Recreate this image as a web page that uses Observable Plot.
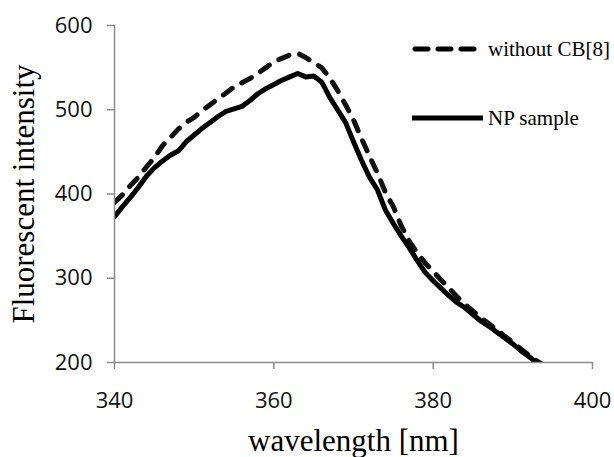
<!DOCTYPE html>
<html>
<head>
<meta charset="utf-8">
<script src="https://cdn.jsdelivr.net/npm/d3@7"></script>
<script src="https://cdn.jsdelivr.net/npm/@observablehq/plot@0.6"></script>
<style>
  html, body { margin: 0; padding: 0; background: #fff; }
  #wrap { position: relative; width: 614px; height: 457px; overflow: hidden; }
  #wrap svg { display: block; }
  #wrap g[aria-label$="tick label"] text { font-family: "Open Sans", sans-serif; font-size: 22px; fill: #111; }
  #wrap g[aria-label="x-axis label"] text,
  #wrap g[aria-label="y-axis label"] text { font-family: "Liberation Serif", "Times New Roman", serif; font-size: 31px; fill: #000; }
  .legend { position: absolute; font-family: "Liberation Serif", "Times New Roman", serif; font-size: 21px; color: #000; white-space: nowrap; }
  .legend .item { position: absolute; display: flex; align-items: center; }
  .legend svg { display: block; }
</style>
</head>
<body>
<div id="wrap"></div>
<script>
const wavelength = [340,341,342,343,344,345,346,347,348,349,350,351,352,353,354,355,356,357,358,359,360,361,362,363,364,365,366,367,368,369,370,371,372,373,374,375,376,377,378,379,380,381,382,383,384,385,386,387,388,389,390,391,392,393,394];
const withoutCB8 = [390,399,410,420,432,443,457,467,477,485,491,499,506,513,520,527,532,537,543,550,557,561,565,567,562,556,550,538,523,506,488,466,445,425,402,385,362,344,330,318,308,298,288,278,269,261,253,246,239,231,224,216,209,202,196];
const npSample = [373,385,396,408,421,431,439,446,451,462,470,478,485,492,498,501,504,511,519,525,530,535,539,543,539,540,533,515,500,485,462,440,420,405,381,365,350,336,321,307,297,288,279,271,265,257,249,243,236,229,222,214,207,200,194];
const seriesNames = ["without CB[8]", "NP sample"];
const xTicks = [340, 360, 380, 400];
const yTicks = [200, 300, 400, 500, 600];
const xLabel = "wavelength [nm]";
const yLabel = "Fluorescent intensity";

const axisGray = "#8c8c8c";

const chart = Plot.plot({
  width: 614,
  height: 457,
  marginLeft: 114,
  marginRight: 22,
  marginTop: 25,
  marginBottom: 95,
  x: { domain: [340, 400] },
  y: { domain: [200, 600] },
  marks: [
    Plot.line(withoutCB8, { x: (d, i) => wavelength[i], y: d => d, stroke: "#111", strokeWidth: 5, strokeDasharray: "11,11", strokeLinecap: "round", strokeLinejoin: "round", clip: true }),
    Plot.line(npSample, { x: (d, i) => wavelength[i], y: d => d, stroke: "#000", strokeWidth: 5, strokeLinejoin: "round", clip: true }),
    Plot.ruleX([340], { stroke: axisGray, strokeWidth: 1.5 }),
    Plot.ruleY([200], { stroke: axisGray, strokeWidth: 1.5 }),
    Plot.axisX(xTicks, { tickSize: 7, tickPadding: 23, stroke: axisGray, strokeWidth: 1.5, fill: "#111", label: xLabel, labelAnchor: "center", labelOffset: 88, labelArrow: "none" }),
    Plot.axisY(yTicks, { tickSize: 7, tickPadding: 15, stroke: axisGray, strokeWidth: 1.5, fill: "#111", label: yLabel, labelAnchor: "center", labelOffset: 103, labelArrow: "none" })
  ]
});
const wrap = document.getElementById("wrap");
wrap.appendChild(chart);

// legend
const legend = document.createElement("div");
legend.className = "legend";
legend.style.left = "0px";
legend.style.top = "0px";
const items = [
  { name: seriesNames[0], dash: "13,10", cap: "round", len: 66, top: 37, gap: 6 },
  { name: seriesNames[1], dash: null, cap: "butt", len: 71, top: 106, gap: 1 }
];
items.forEach(it => {
  const d = document.createElement("div");
  d.className = "item";
  d.style.left = "412px";
  d.style.top = it.top + "px";
  d.style.height = "24px";
  const ns = "http://www.w3.org/2000/svg";
  const s = document.createElementNS(ns, "svg");
  s.setAttribute("width", it.len + 4);
  s.setAttribute("height", 24);
  const l = document.createElementNS(ns, "line");
  l.setAttribute("x1", it.cap === "round" ? 3 : 0);
  l.setAttribute("x2", it.len);
  l.setAttribute("y1", 12);
  l.setAttribute("y2", 12);
  l.setAttribute("stroke", "#000");
  l.setAttribute("stroke-width", 5);
  l.setAttribute("stroke-linecap", it.cap);
  if (it.dash) l.setAttribute("stroke-dasharray", it.dash);
  s.appendChild(l);
  d.appendChild(s);
  const t = document.createElement("span");
  t.textContent = it.name;
  t.style.marginLeft = it.gap + "px";
  d.appendChild(t);
  legend.appendChild(d);
});
wrap.appendChild(legend);
</script>
</body>
</html>
